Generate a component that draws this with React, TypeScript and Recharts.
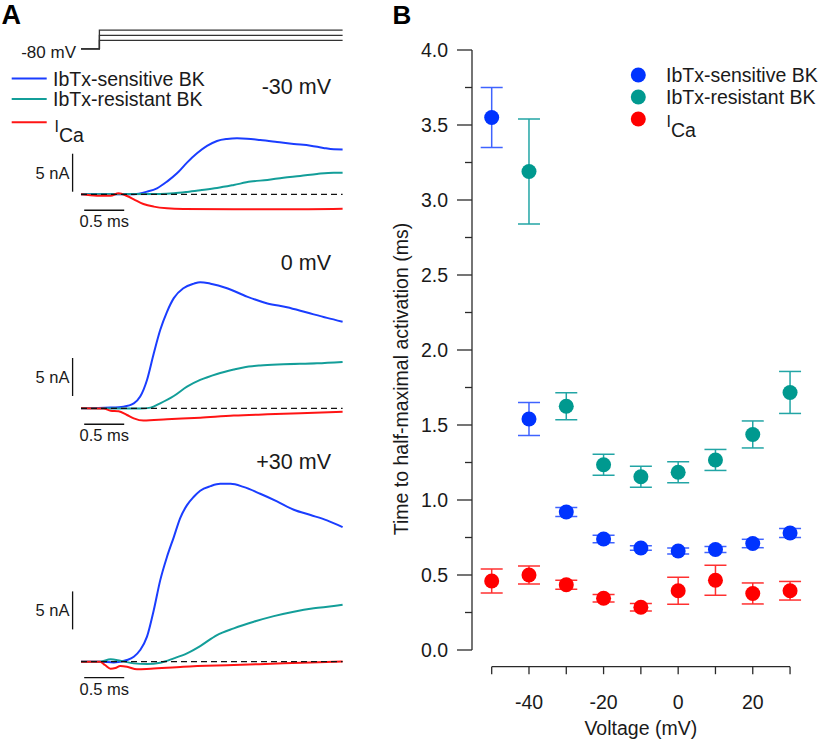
import React from 'react';
import {
  LineChart,
  Line,
  XAxis,
  YAxis,
  ReferenceLine,
  ScatterChart,
  Scatter,
  ErrorBar,
  Legend,
} from 'recharts';

const FONT = "'Liberation Sans', Arial, Helvetica, sans-serif";

// ---------------- Panel B data ----------------
const voltages = [-50, -40, -30, -20, -10, 0, 10, 20, 30];
const sensitiveMean = [3.55, 1.54, 0.92, 0.74, 0.68, 0.66, 0.67, 0.71, 0.78];
const sensitiveSem = [0.2, 0.11, 0.03, 0.025, 0.015, 0.02, 0.02, 0.028, 0.03];
const resistantVoltages = [-40, -30, -20, -10, 0, 10, 20, 30];
const resistantMean = [3.19, 1.625, 1.235, 1.155, 1.185, 1.267, 1.437, 1.717];
const resistantSem = [0.35, 0.09, 0.07, 0.07, 0.07, 0.07, 0.09, 0.14];
const icaMean = [0.46, 0.5, 0.435, 0.345, 0.285, 0.395, 0.465, 0.377, 0.395];
const icaSem = [0.08, 0.06, 0.03, 0.025, 0.025, 0.09, 0.1, 0.07, 0.062];

const xTicks = [-50, -40, -30, -20, -10, 0, 10, 20, 30];
const xTickLabels = [-40, -20, 0, 20];
const yTicks = [0, 0.25, 0.5, 0.75, 1, 1.25, 1.5, 1.75, 2, 2.25, 2.5, 2.75, 3, 3.25, 3.5, 3.75, 4];
const legendNames = ['IbTx-sensitive BK', 'IbTx-resistant BK', 'ICa'];

// ---------------- Panel A data (time ms, current nA) ----------------
type Pt = [number, number];
const neg30Sensitive: Pt[] = [
  [0, 0], [0.66, 0.02], [0.825, 0.35], [0.95, 0.79], [1.075, 1.67], [1.2, 2.76], [1.325, 4.17],
  [1.45, 5.39], [1.575, 6.36], [1.7, 7.02], [1.825, 7.28], [1.95, 7.37], [2.075, 7.32],
  [2.24, 7.15], [2.45, 6.89], [2.66, 6.62], [2.87, 6.4], [3.03, 6.1], [3.16, 5.92], [3.27, 5.9],
];
const neg30Resistant: Pt[] = [
  [0, 0], [0.99, 0.04], [1.16, 0.13], [1.325, 0.31], [1.49, 0.53], [1.7, 0.83], [1.91, 1.23],
  [2.12, 1.67], [2.33, 1.89], [2.53, 2.19], [2.74, 2.41], [2.95, 2.68], [3.16, 2.85], [3.27, 2.85],
];
const neg30Ica: Pt[] = [
  [0, 0], [0.2, -0.18], [0.37, -0.18], [0.47, 0.13], [0.575, -0.22], [0.66, -0.66], [0.78, -1.27],
  [0.91, -1.62], [1.075, -1.84], [1.28, -1.93], [1.91, -1.97], [2.53, -1.97], [3.27, -1.89],
];
const zeroSensitive: Pt[] = [
  [0, 0], [0.37, 0.09], [0.53, 0.22], [0.66, 0.66], [0.74, 1.54], [0.825, 3.73], [0.91, 7.24],
  [0.99, 10.3], [1.075, 12.7], [1.16, 14.5], [1.28, 15.8], [1.41, 16.4], [1.49, 16.6], [1.62, 16.4],
  [1.825, 15.8], [2.075, 14.7], [2.33, 13.8], [2.575, 13.3], [2.825, 12.6], [3.075, 11.9], [3.27, 11.4],
];
const zeroResistant: Pt[] = [
  [0, 0], [0.74, -0.04], [0.87, 0.09], [0.99, 0.66], [1.16, 1.62], [1.325, 2.85], [1.49, 3.73],
  [1.7, 4.52], [1.91, 5.1], [2.03, 5.38], [2.24, 5.64], [2.53, 5.79], [2.95, 5.92], [3.27, 6.1],
];
const zeroIca: Pt[] = [
  [0, 0], [0.28, -0.04], [0.37, -0.31], [0.47, -0.39], [0.575, -0.88], [0.66, -1.32], [0.78, -1.62],
  [1.075, -1.45], [1.49, -1.23], [1.91, -0.96], [2.33, -0.79], [2.74, -0.66], [3.27, -0.44],
];
const pos30Sensitive: Pt[] = [
  [0, 0], [0.24, 0], [0.41, -0.09], [0.575, 0.22], [0.66, 0.66], [0.74, 1.54], [0.825, 3.29],
  [0.91, 6.8], [0.99, 10.7], [1.075, 13.8], [1.16, 16.4], [1.24, 18.9], [1.325, 20.6], [1.41, 21.7],
  [1.49, 22.5], [1.62, 23.1], [1.74, 23.4], [1.87, 23.4], [2.03, 23.0], [2.24, 22.1], [2.45, 21.1],
  [2.66, 20.0], [2.87, 19.3], [3.075, 18.6], [3.27, 17.7],
];
const pos30Resistant: Pt[] = [
  [0, 0], [0.24, 0], [0.37, 0.31], [0.49, 0.13], [0.66, -0.22], [0.825, -0.31], [0.99, -0.13],
  [1.16, 0.44], [1.325, 1.1], [1.49, 2.06], [1.7, 3.51], [1.91, 4.39], [2.16, 5.26], [2.41, 6.0],
  [2.66, 6.58], [2.91, 7.02], [3.16, 7.32], [3.27, 7.5],
];
const pos30Ica: Pt[] = [
  [0, 0], [0.24, 0], [0.3, -0.44], [0.37, -0.92], [0.43, -0.83], [0.49, -0.57], [0.575, -0.66],
  [0.7, -1.0], [0.87, -0.92], [1.28, -0.66], [1.91, -0.44], [2.53, -0.22], [3.27, 0.04],
];

// voltage protocol
const holdingMV = -80;
const stepVoltages = [-30, 0, 30];
const stepLabels = ['-30 mV', '0 mV', '+30 mV'];
const stepOnsetMs = 0.23;
const sweepEndMs = 3.27;
const timeBarMs = 0.5;
const currentBarNA = 5;

// ---------------- styles ----------------
const BLUE = '#0033ff';
const TEAL = '#00998f';
const RED = '#ff0000';
const BLUE_ERR = '#3f63ff';
const TEAL_ERR = '#22a5a5';
const RED_ERR = '#ff3030';
const TR_BLUE = '#1a3dff';
const TR_TEAL = '#139e99';
const TR_RED = '#ff1414';
const AXIS = '#2a2a2a';

// layout of panel A
const T_PX = 80; // px per ms
const I_PX = 7.6; // px per nA
const T_MIN = -1;
const T_MAX = 3.5;
const TRACE_W = (T_MAX - T_MIN) * T_PX;
const TRACE_LEFT = 0.7;

const rows = (pts: Pt[]) => pts.map(([t, i]) => ({ t, i }));

type PanelCfg = {
  top: number;
  height: number;
  base: number;
  barBase: number;
  labelY: number;
  sens: Pt[];
  res: Pt[];
  ica: Pt[];
};

const panels: PanelCfg[] = [
  { top: 120, height: 120, base: 194.3, barBase: 0.34, labelY: 86, sens: neg30Sensitive, res: neg30Resistant, ica: neg30Ica },
  { top: 250, height: 200, base: 408.3, barBase: 1.62, labelY: 262.7, sens: zeroSensitive, res: zeroResistant, ica: zeroIca },
  { top: 470, height: 240, base: 661.7, barBase: 4.25, labelY: 461.7, sens: pos30Sensitive, res: pos30Resistant, ica: pos30Ica },
];

const TIME_BAR_Y = -2.1; // nA level of the time scale bar
const I_BAR_T = -0.105; // ms position of current scale bar

function TracePanel({ cfg }: { cfg: PanelCfg }) {
  const yMax = (cfg.base - cfg.top) / I_PX;
  const yMin = -(cfg.top + cfg.height - cfg.base) / I_PX;
  return (
    <div style={{ position: 'absolute', left: TRACE_LEFT, top: cfg.top }}>
      <LineChart width={TRACE_W} height={cfg.height} margin={{ top: 0, right: 0, bottom: 0, left: 0 }}>
        <XAxis type="number" dataKey="t" domain={[T_MIN, T_MAX]} hide allowDataOverflow />
        <YAxis type="number" domain={[yMin, yMax]} hide allowDataOverflow />
        <Line data={rows(cfg.sens)} dataKey="i" type="monotone" stroke={TR_BLUE} strokeWidth={2} dot={false} activeDot={false} isAnimationActive={false} />
        <Line data={rows(cfg.res)} dataKey="i" type="monotone" stroke={TR_TEAL} strokeWidth={2} dot={false} activeDot={false} isAnimationActive={false} />
        <Line data={rows(cfg.ica)} dataKey="i" type="monotone" stroke={TR_RED} strokeWidth={2} dot={false} activeDot={false} isAnimationActive={false} />
        <ReferenceLine segment={[{ x: 0, y: 0 }, { x: sweepEndMs, y: 0 }]} stroke="#111" strokeWidth={1.2} strokeDasharray="6 4" />
        <ReferenceLine segment={[{ x: I_BAR_T, y: cfg.barBase }, { x: I_BAR_T, y: cfg.barBase + currentBarNA }]} stroke="#111" strokeWidth={1.3} ifOverflow="visible" />
        <ReferenceLine segment={[{ x: 0.04, y: TIME_BAR_Y }, { x: 0.04 + timeBarMs, y: TIME_BAR_Y }]} stroke="#111" strokeWidth={1.3} ifOverflow="visible" />
      </LineChart>
    </div>
  );
}

// voltage protocol chart
const PROT_TOP = 22;
const PROT_H = 32;
const PROT_PX_PER_MV = 0.17;
const PROT_ZERO_Y = 35.3;

function Protocol() {
  const vMax = (PROT_ZERO_Y - PROT_TOP) / PROT_PX_PER_MV;
  const vMin = -(PROT_TOP + PROT_H - PROT_ZERO_Y) / PROT_PX_PER_MV;
  return (
    <div style={{ position: 'absolute', left: TRACE_LEFT, top: PROT_TOP }}>
      <LineChart width={TRACE_W} height={PROT_H} margin={{ top: 0, right: 0, bottom: 0, left: 0 }}>
        <XAxis type="number" dataKey="t" domain={[T_MIN, T_MAX]} hide allowDataOverflow />
        <YAxis type="number" domain={[vMin, vMax]} hide allowDataOverflow />
        {stepVoltages.map((v) => (
          <Line
            key={v}
            data={[
              { t: 0, v: holdingMV },
              { t: stepOnsetMs, v: holdingMV },
              { t: stepOnsetMs, v },
              { t: sweepEndMs, v },
            ]}
            dataKey="v"
            type="linear"
            stroke="#333"
            strokeWidth={1.3}
            dot={false}
            activeDot={false}
            isAnimationActive={false}
          />
        ))}
      </LineChart>
    </div>
  );
}

// ---------------- Panel B ----------------
const X_AXIS_OFFSET = 16.7; // px gap between plot bottom (y=0) and x axis line
const Y_PX_PER_UNIT = 150;

const sensitiveRows = voltages.map((v, k) => ({ v, m: sensitiveMean[k], e: sensitiveSem[k] }));
const resistantRows = resistantVoltages.map((v, k) => ({ v, m: resistantMean[k], e: resistantSem[k] }));
const icaRows = voltages.map((v, k) => ({ v, m: icaMean[k], e: icaSem[k] }));

const XTick = (props: any) => {
  const { x, y, payload } = props;
  const v = payload.value;
  return (
    <g>
      <line x1={x} x2={x} y1={y + X_AXIS_OFFSET} y2={y + X_AXIS_OFFSET + 7.5} stroke={AXIS} strokeWidth={1.3} />
      {xTickLabels.includes(v) && (
        <text x={x} y={y + 58.7} textAnchor="middle" fontSize={19.5} fontFamily={FONT} fill="#1a1a1a">
          {v}
        </text>
      )}
    </g>
  );
};

const YTick = (props: any) => {
  const { x, y, payload } = props;
  const v = payload.value as number;
  const major = Math.abs(v * 2 - Math.round(v * 2)) < 1e-6;
  return (
    <g>
      <line x1={x - (major ? 15 : 7)} x2={x} y1={y} y2={y} stroke={AXIS} strokeWidth={1.3} />
      {major && (
        <text x={x - 24} y={y + 7} textAnchor="end" fontSize={19.5} fontFamily={FONT} fill="#1a1a1a">
          {v.toFixed(1)}
        </text>
      )}
    </g>
  );
};

const dot = (color: string) => (p: any) => <circle cx={p.cx} cy={p.cy} r={7.5} fill={color} />;

const legendColors = [BLUE, TEAL, RED];
const LegendB = () => (
  <svg width={190} height={85} style={{ overflow: 'visible' }}>
    {legendNames.map((name, k) => {
      const cy = 15 + k * 22;
      return (
        <g key={name}>
          <circle cx={8.3} cy={cy} r={7.5} fill={legendColors[k]} />
          {k < 2 ? (
            <text x={36} y={cy + 7} fontSize={19.5} fontFamily={FONT} fill="#1a1a1a">
              {name}
            </text>
          ) : (
            <text fontFamily={FONT} fill="#1a1a1a">
              <tspan x={36.5} y={cy + 7.7} fontSize={16}>I</tspan>
              <tspan y={cy + 17.7} fontSize={19.5}>Ca</tspan>
            </text>
          )}
        </g>
      );
    })}
  </svg>
);

function PanelB() {
  return (
    <div style={{ position: 'absolute', left: 380, top: 0 }}>
      <ScatterChart width={440} height={740} margin={{ top: 50, right: 11.3, bottom: 30, left: 32 }}>
        <XAxis
          type="number"
          dataKey="v"
          domain={[-55.28, 35]}
          ticks={xTicks}
          interval={0}
          axisLine={false}
          tickLine={false}
          tickSize={0}
          tickMargin={0}
          height={60}
          tick={(p: any) => <XTick {...p} />}
          allowDataOverflow
        />
        <YAxis
          type="number"
          dataKey="m"
          domain={[0, 4]}
          ticks={yTicks}
          interval={0}
          tickLine={false}
          tickSize={0}
          tickMargin={0}
          width={60}
          axisLine={{ stroke: AXIS, strokeWidth: 1.3 }}
          tick={(p: any) => <YTick {...p} />}
          allowDataOverflow
        />
        <ReferenceLine
          segment={[
            { x: -50, y: -X_AXIS_OFFSET / Y_PX_PER_UNIT },
            { x: 30, y: -X_AXIS_OFFSET / Y_PX_PER_UNIT },
          ]}
          stroke={AXIS}
          strokeWidth={1.3}
          ifOverflow="visible"
        />
        <Scatter name={legendNames[0]} data={sensitiveRows} shape={dot(BLUE)} isAnimationActive={false}>
          <ErrorBar dataKey="e" direction="y" width={11} stroke={BLUE_ERR} strokeWidth={1.5} isAnimationActive={false} />
        </Scatter>
        <Scatter name={legendNames[1]} data={resistantRows} shape={dot(TEAL)} isAnimationActive={false}>
          <ErrorBar dataKey="e" direction="y" width={11} stroke={TEAL_ERR} strokeWidth={1.5} isAnimationActive={false} />
        </Scatter>
        <Scatter name={legendNames[2]} data={icaRows} shape={dot(RED)} isAnimationActive={false}>
          <ErrorBar dataKey="e" direction="y" width={11} stroke={RED_ERR} strokeWidth={1.5} isAnimationActive={false} />
        </Scatter>
        <Legend
          layout="vertical"
          align="center"
          verticalAlign="middle"
          content={() => <LegendB />}
          wrapperStyle={{ left: 250, top: 60, width: 190, height: 85 }}
        />
      </ScatterChart>
    </div>
  );
}

// ---------------- overlay text ----------------
const legendAColors = [TR_BLUE, TR_TEAL, TR_RED];
const legendARows = [78.5, 99, 122.3];

function Overlay() {
  const txt = { fontFamily: FONT, fill: '#1a1a1a' } as const;
  return (
    <svg width={820} height={740} style={{ position: 'absolute', left: 0, top: 0, pointerEvents: 'none' }}>
      <text x={1.5} y={23.5} fontSize={27} fontWeight="bold" {...txt} fill="#000">A</text>
      <text x={392.5} y={23.5} fontSize={26} fontWeight="bold" {...txt} fill="#000">B</text>
      <text x={76} y={57.5} fontSize={17} textAnchor="end" {...txt}>{holdingMV} mV</text>

      {legendNames.map((name, k) => (
        <g key={name}>
          <line x1={11.7} x2={46.7} y1={legendARows[k]} y2={legendARows[k]} stroke={legendAColors[k]} strokeWidth={2} />
          {k < 2 ? (
            <text x={53} y={legendARows[k] + 7} fontSize={19.5} {...txt}>{name}</text>
          ) : (
            <text {...txt}>
              <tspan x={54.5} y={legendARows[k] + 9.2} fontSize={16}>I</tspan>
              <tspan y={legendARows[k] + 19.2} fontSize={19.5}>Ca</tspan>
            </text>
          )}
        </g>
      ))}

      {panels.map((p, k) => (
        <g key={k}>
          <text x={331} y={p.labelY + 7.7} fontSize={21.5} textAnchor="end" {...txt}>{stepLabels[k]}</text>
          <text x={69.5} y={p.base - (p.barBase + currentBarNA / 2) * I_PX + 6} fontSize={16.5} textAnchor="end" {...txt}>
            {currentBarNA} nA
          </text>
          <text x={104.3} y={p.base + 33} fontSize={16.5} textAnchor="middle" {...txt}>
            {timeBarMs} ms
          </text>
        </g>
      ))}

      <text x={401.5} y={379} fontSize={19.5} textAnchor="middle" dy="0.35em" transform="rotate(-90 401.5 379)" {...txt}>
        Time to half-maximal activation (ms)
      </text>
      <text x={640.8} y={735.3} fontSize={19.5} textAnchor="middle" {...txt}>Voltage (mV)</text>
    </svg>
  );
}

export default function App() {
  return (
    <div style={{ position: 'absolute', left: 0, top: 0, width: 820, height: 740, background: '#fff', fontFamily: FONT }}>
      <Protocol />
      {panels.map((p, k) => (
        <TracePanel key={k} cfg={p} />
      ))}
      <PanelB />
      <Overlay />
    </div>
  );
}
